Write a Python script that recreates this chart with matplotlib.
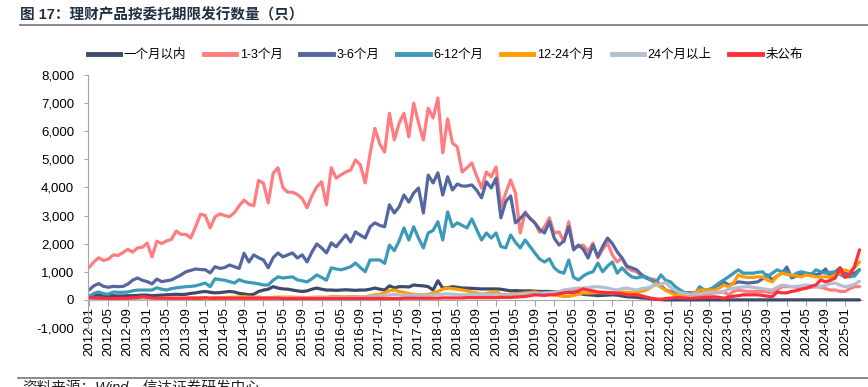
import matplotlib
matplotlib.use("Agg")
import matplotlib.pyplot as plt
from matplotlib.lines import Line2D
import numpy as np

plt.rcParams['font.family'] = ['Liberation Sans', 'Noto Sans CJK SC', 'DejaVu Sans']
plt.rcParams['axes.unicode_minus'] = False

# ---------------- data (monthly, 2012-01 ... 2025-04) ----------------
start_year, start_month = 2012, 1
n_months = 160
months = [f"{start_year + (start_month - 1 + i) // 12}-{(start_month - 1 + i) % 12 + 1:02d}" for i in range(n_months)]

series_names = ["一个月以内", "1-3个月", "3-6个月", "6-12个月", "12-24个月", "24个月以上", "未公布"]
series_colors = ["#3D4A6B", "#FF7C80", "#5566A0", "#3A9AB8", "#FF9E00", "#B4BED0", "#FF2E3A"]

m_1 = [140, 160, 170, 160, 150, 150, 140, 140, 150, 150, 160, 170, 170, 150, 160, 170, 180, 190, 200, 190,
       200, 230, 250, 280, 300, 270, 250, 260, 280, 300, 280, 230, 210, 180, 200, 300, 350, 380, 470, 420,
       390, 380, 350, 320, 300, 320, 380, 420, 380, 350, 350, 340, 350, 360, 350, 340, 350, 350, 380, 420,
       380, 350, 500, 430, 470, 470, 460, 530, 510, 500, 470, 350, 680, 420, 430, 470, 450, 420, 420, 410,
       400, 390, 390, 390, 390, 380, 350, 320, 330, 320, 320, 320, 310, 300, 300, 300, 290, 280, 300, 280,
       250, 230, 200, 180, 170, 150, 160, 170, 180, 170, 140, 110, 100, 90, 70, 60, 40, 20, 10, 0,
       0, 0, 0, 0, 0, 0, 0, 0, 0, 0, 0, 0, 0, 0, 0, 0, 0, 0, 0, 0,
       0, 0, 0, 0, 0, 0, 0, 0, 0, 0, 0, 0, 0, 0, 0, 0, 0, 0, 0, 0]

m1_3 = [1150, 1350, 1500, 1400, 1450, 1600, 1580, 1680, 1800, 1700, 1850, 1870, 2020, 1530, 2090, 2000, 2100, 2150, 2450, 2330,
        2330, 2200, 2600, 3050, 3000, 2560, 2950, 3060, 3000, 2960, 3100, 3350, 3550, 3400, 3350, 4250, 4150, 3450, 4500, 4700,
        4000, 3830, 3830, 3750, 3600, 3280, 3700, 4020, 4200, 3380, 4700, 4330, 4450, 4550, 4620, 4980, 4800, 4160, 5200, 6100,
        5550, 5260, 6640, 5690, 6290, 6640, 5800, 7000, 6300, 5690, 6820, 6470, 7180, 5230, 6440, 5580, 5440, 4550, 4700, 4870,
        4400, 3980, 4550, 4380, 4730, 3310, 3800, 4270, 3800, 2380, 3130, 2900, 2740, 2400, 2600, 2920, 2370, 2420, 2070, 2780,
        1840, 1900, 1950, 1710, 2020, 1490, 1800, 2020, 1600, 1350, 1490, 1140, 1050, 1000, 850, 780, 750, 710, 500, 350,
        300, 280, 270, 260, 250, 220, 180, 180, 220, 250, 260, 280, 180, 300, 350, 320, 300, 300, 300, 300,
        280, 250, 350, 470, 470, 470, 450, 420, 420, 450, 470, 450, 400, 350, 350, 300, 300, 400, 470, 470]

m3_6 = [350, 500, 580, 480, 450, 480, 470, 480, 560, 700, 780, 700, 650, 570, 740, 650, 680, 710, 800, 890,
        1000, 1050, 1100, 1080, 1070, 960, 1180, 1120, 1150, 1240, 1180, 1120, 1660, 1350, 1600, 1500, 1420, 1140, 1500, 1670,
        1530, 1600, 1670, 1490, 1600, 1350, 1700, 1990, 1850, 1670, 2030, 1890, 2100, 2310, 2060, 2420, 2300, 2200, 2600, 2740,
        2650, 2600, 3380, 3090, 3310, 3730, 3480, 3800, 3980, 3090, 4440, 4160, 4520, 3730, 4380, 3910, 4120, 4050, 4050, 4090,
        3900, 3630, 4200, 3980, 4330, 2920, 3500, 3700, 2740, 2900, 3090, 2900, 2740, 2500, 2380, 2780, 2200, 1950, 2100, 2600,
        1780, 1950, 1800, 1490, 1950, 1540, 1900, 2200, 2000, 1710, 1490, 1200, 1140, 1070, 900, 780, 700, 640, 500, 350,
        280, 250, 250, 250, 250, 250, 280, 300, 380, 420, 520, 640, 530, 580, 640, 620, 600, 620, 640, 750,
        890, 710, 850, 950, 1170, 780, 850, 890, 950, 920, 890, 950, 1100, 820, 1000, 1140, 950, 950, 950, 1070]

m6_12 = [110, 230, 280, 220, 200, 280, 270, 270, 280, 320, 350, 350, 350, 350, 430, 380, 350, 400, 430, 450,
         470, 480, 500, 550, 600, 470, 750, 720, 700, 650, 600, 720, 650, 620, 600, 570, 530, 530, 700, 820,
         780, 800, 820, 710, 680, 640, 750, 890, 800, 700, 1140, 1100, 1070, 1120, 1180, 1310, 1150, 1000, 1420, 1420,
         1420, 1300, 1950, 1750, 2100, 2560, 2130, 2600, 2200, 1850, 2380, 2470, 2780, 2130, 3130, 2600, 2740, 2650, 2560, 2880,
         2500, 2130, 2380, 2200, 2380, 1900, 1850, 2310, 2050, 1850, 2130, 1900, 1670, 1450, 1350, 1460, 1140, 1000, 950, 1420,
         800, 710, 850, 950, 1000, 1310, 1000, 1200, 1350, 950, 1140, 950, 820, 780, 820, 820, 700, 600, 890, 700,
         640, 470, 350, 250, 200, 180, 470, 350, 350, 470, 600, 710, 820, 950, 1070, 950, 950, 950, 980, 1000,
         820, 950, 1070, 1000, 1000, 820, 950, 1000, 950, 890, 1070, 1000, 950, 980, 1000, 900, 820, 820, 850, 1070]

m12_24 = [20, 30, 30, 40, 40, 40, 30, 30, 40, 40, 50, 40, 40, 40, 50, 50, 50, 60, 60, 60,
          60, 70, 70, 80, 80, 60, 80, 80, 80, 90, 100, 100, 120, 100, 90, 100, 80, 70, 90, 100,
          100, 100, 100, 90, 90, 80, 90, 100, 100, 90, 120, 120, 110, 110, 120, 120, 110, 110, 150, 180,
          200, 250, 330, 350, 300, 270, 220, 200, 190, 180, 200, 250, 300, 380, 420, 400, 380, 350, 320, 280,
          250, 200, 230, 260, 300, 200, 180, 200, 220, 230, 250, 260, 280, 230, 200, 220, 180, 150, 120, 130,
          160, 200, 250, 240, 250, 260, 250, 250, 240, 260, 280, 270, 250, 260, 300, 350, 450, 600, 450, 350,
          250, 180, 180, 180, 180, 250, 350, 350, 350, 350, 420, 530, 470, 600, 890, 820, 800, 800, 820, 820,
          700, 640, 850, 950, 900, 890, 850, 820, 890, 850, 820, 820, 820, 820, 900, 950, 1070, 1000, 1150, 1350]

m24p = [10, 10, 15, 15, 20, 20, 20, 20, 25, 25, 25, 30, 30, 30, 30, 35, 35, 40, 40, 40,
        40, 45, 45, 50, 50, 45, 50, 50, 55, 55, 60, 60, 60, 60, 60, 65, 65, 60, 70, 70,
        70, 70, 75, 75, 75, 70, 80, 80, 80, 80, 90, 90, 90, 100, 100, 100, 100, 110, 120, 130,
        150, 160, 180, 190, 180, 170, 160, 170, 180, 170, 170, 180, 190, 200, 210, 200, 190, 180, 180, 190,
        200, 190, 180, 190, 200, 180, 170, 180, 190, 200, 210, 220, 230, 240, 250, 260, 280, 300, 350, 380,
        400, 420, 420, 440, 460, 470, 450, 420, 380, 350, 400, 420, 380, 350, 400, 420, 470, 520, 560, 620,
        450, 330, 260, 230, 200, 200, 220, 250, 260, 270, 280, 300, 380, 420, 440, 460, 470, 450, 420, 400,
        370, 350, 450, 530, 500, 470, 480, 500, 530, 500, 470, 480, 520, 580, 600, 520, 470, 500, 560, 660]

m_undisclosed = [80, 70, 60, 60, 50, 50, 50, 60, 60, 70, 80, 120, 90, 70, 60, 60, 60, 60, 60, 60,
                 60, 60, 60, 60, 70, 60, 60, 60, 60, 60, 60, 60, 60, 60, 60, 60, 60, 60, 60, 60,
                 50, 50, 50, 50, 50, 50, 50, 50, 50, 50, 50, 50, 50, 50, 50, 50, 50, 50, 50, 50,
                 50, 50, 50, 50, 50, 60, 60, 60, 60, 60, 60, 60, 60, 70, 70, 70, 70, 70, 80, 80,
                 80, 80, 80, 80, 80, 90, 90, 90, 100, 110, 120, 150, 180, 170, 160, 180, 180, 220, 250, 270,
                 280, 320, 390, 350, 320, 280, 270, 260, 250, 240, 220, 180, 180, 180, 150, 100, 60, 30, 20, 50,
                 60, 80, 80, 70, 60, 70, 80, 80, 100, 110, 90, 60, 100, 130, 150, 180, 180, 180, 180, 160,
                 130, 110, 280, 250, 250, 300, 330, 380, 420, 480, 530, 710, 640, 700, 780, 1140, 800, 900, 1200, 1780]

all_series = [m_1, m1_3, m3_6, m6_12, m12_24, m24p, m_undisclosed]

# ---------------- figure ----------------
W, H = 868, 387
fig = plt.figure(figsize=(W / 100, H / 100), dpi=100)

x0_px, x_per = 89.0, 4.846
xlim = (-0.2, 159.6)
left_px = x0_px + xlim[0] * x_per
width_px = (xlim[1] - xlim[0]) * x_per
top_px, bot_px = 75.0, 328.0
ax = fig.add_axes([left_px / W, 1 - bot_px / H, width_px / W, (bot_px - top_px) / H])

for s in ['top', 'right']:
    ax.spines[s].set_visible(False)
ax.spines['bottom'].set_position(('data', 0))
ax.spines['bottom'].set_color('#A6A6A6')
ax.spines['left'].set_color('#A6A6A6')
ax.spines['bottom'].set_zorder(0)

x = np.arange(n_months)
for name, vals, col in zip(series_names, all_series, series_colors):
    ax.plot(x[:len(vals)], vals, color=col, lw=2.3, label=name,
            solid_joinstyle='round', solid_capstyle='round')

ax.set_xlim(*xlim)
ax.set_ylim(-1000, 8000)
ax.set_yticks(np.arange(-1000, 8001, 1000))
ax.set_yticklabels([f"{v:,}" for v in range(-1000, 8001, 1000)])
tick_idx = [i for i in range(0, n_months, 4) if i <= 156]
ax.set_xticks(tick_idx)
ax.set_xticklabels([months[i] for i in tick_idx])

ax.tick_params(axis='y', direction='out', length=3, color='#A6A6A6', labelsize=9.5, pad=7, labelcolor='#000000')
ax.tick_params(axis='x', direction='out', length=4, color='#A6A6A6', labelsize=9.5, pad=1,
               labelcolor='#000000', labelrotation=90)

# legend
handles = [Line2D([0], [0], color=c, lw=3.5) for c in series_colors]
fig.legend(handles, series_names, loc='center', bbox_to_anchor=(0.513, 1 - 55 / H), ncol=7,
           frameon=False, fontsize=9, handlelength=2.6, handletextpad=0.3, columnspacing=1.4,
           borderaxespad=0, borderpad=0)

# title and rules
fig.text(20 / W, 1 - 15 / H, "图 17：理财产品按委托期限发行数量（只）", fontsize=10.5, fontweight='bold',
         color='#1F3044', va='center', ha='left')
fig.add_artist(Line2D([20 / W, 1.0], [1 - 25 / H] * 2, color='#808080', lw=1.3))
fig.add_artist(Line2D([18 / W, 1.0], [1 - 378 / H] * 2, color='#808080', lw=1.3))
fig.text(22 / W, 1 - 381 / H, "资料来源：Wind，信达证券研发中心", fontsize=10.5, style='italic',
         color='#222222', va='top', ha='left')

fig.savefig("out.png", dpi=100)
